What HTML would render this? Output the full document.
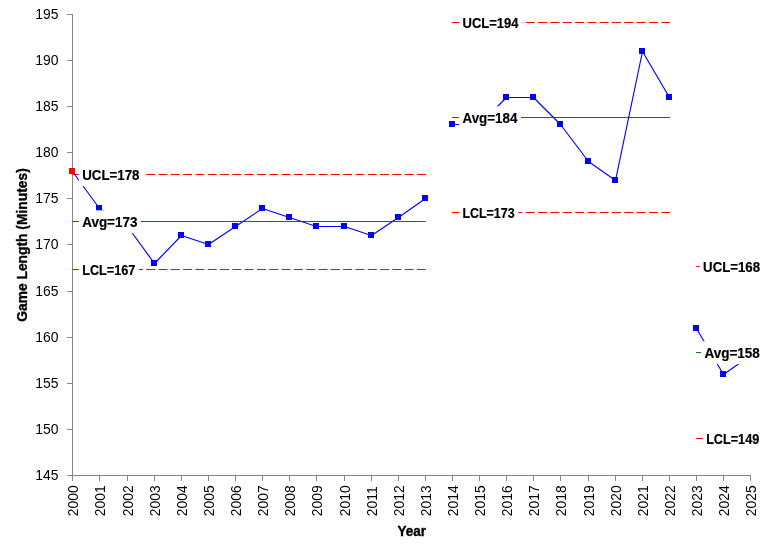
<!DOCTYPE html>
<html><head><meta charset="utf-8"><style>
html,body{margin:0;padding:0;background:#fff;width:768px;height:544px;overflow:hidden}
svg{display:block;will-change:transform}
.t{font-family:"Liberation Sans", sans-serif;font-size:13.9px;fill:#000}
.l{font-family:"Liberation Sans", sans-serif;font-size:14.8px;font-weight:bold;fill:#000;stroke:#000;stroke-width:0.2px}
.ti{font-family:"Liberation Sans", sans-serif;font-size:14.3px;font-weight:bold;fill:#000;stroke:#000;stroke-width:0.35px}
</style></head><body>
<svg width="768" height="544" viewBox="0 0 768 544">
<line x1="72.5" y1="14" x2="72.5" y2="476" stroke="#868686" stroke-width="1"/>
<line x1="67" y1="475.5" x2="751" y2="475.5" stroke="#868686" stroke-width="1"/>
<line x1="67" y1="475.5" x2="72" y2="475.5" stroke="#868686" stroke-width="1"/>
<text x="58.5" y="480.20" text-anchor="end" class="t">145</text>
<line x1="67" y1="429.5" x2="72" y2="429.5" stroke="#868686" stroke-width="1"/>
<text x="58.5" y="434.05" text-anchor="end" class="t">150</text>
<line x1="67" y1="383.5" x2="72" y2="383.5" stroke="#868686" stroke-width="1"/>
<text x="58.5" y="387.90" text-anchor="end" class="t">155</text>
<line x1="67" y1="337.5" x2="72" y2="337.5" stroke="#868686" stroke-width="1"/>
<text x="58.5" y="341.75" text-anchor="end" class="t">160</text>
<line x1="67" y1="291.5" x2="72" y2="291.5" stroke="#868686" stroke-width="1"/>
<text x="58.5" y="295.60" text-anchor="end" class="t">165</text>
<line x1="67" y1="244.5" x2="72" y2="244.5" stroke="#868686" stroke-width="1"/>
<text x="58.5" y="249.45" text-anchor="end" class="t">170</text>
<line x1="67" y1="198.5" x2="72" y2="198.5" stroke="#868686" stroke-width="1"/>
<text x="58.5" y="203.30" text-anchor="end" class="t">175</text>
<line x1="67" y1="152.5" x2="72" y2="152.5" stroke="#868686" stroke-width="1"/>
<text x="58.5" y="157.15" text-anchor="end" class="t">180</text>
<line x1="67" y1="106.5" x2="72" y2="106.5" stroke="#868686" stroke-width="1"/>
<text x="58.5" y="111.00" text-anchor="end" class="t">185</text>
<line x1="67" y1="60.5" x2="72" y2="60.5" stroke="#868686" stroke-width="1"/>
<text x="58.5" y="64.85" text-anchor="end" class="t">190</text>
<line x1="67" y1="14.5" x2="72" y2="14.5" stroke="#868686" stroke-width="1"/>
<text x="58.5" y="18.70" text-anchor="end" class="t">195</text>
<line x1="72.5" y1="476" x2="72.5" y2="481" stroke="#868686" stroke-width="1"/>
<text transform="translate(78.10,516.2) rotate(-90)" class="t">2000</text>
<line x1="99.5" y1="476" x2="99.5" y2="481" stroke="#868686" stroke-width="1"/>
<text transform="translate(105.10,516.2) rotate(-90)" class="t">2001</text>
<line x1="127.5" y1="476" x2="127.5" y2="481" stroke="#868686" stroke-width="1"/>
<text transform="translate(133.10,516.2) rotate(-90)" class="t">2002</text>
<line x1="154.5" y1="476" x2="154.5" y2="481" stroke="#868686" stroke-width="1"/>
<text transform="translate(160.10,516.2) rotate(-90)" class="t">2003</text>
<line x1="181.5" y1="476" x2="181.5" y2="481" stroke="#868686" stroke-width="1"/>
<text transform="translate(187.10,516.2) rotate(-90)" class="t">2004</text>
<line x1="208.5" y1="476" x2="208.5" y2="481" stroke="#868686" stroke-width="1"/>
<text transform="translate(214.10,516.2) rotate(-90)" class="t">2005</text>
<line x1="235.5" y1="476" x2="235.5" y2="481" stroke="#868686" stroke-width="1"/>
<text transform="translate(241.10,516.2) rotate(-90)" class="t">2006</text>
<line x1="262.5" y1="476" x2="262.5" y2="481" stroke="#868686" stroke-width="1"/>
<text transform="translate(268.10,516.2) rotate(-90)" class="t">2007</text>
<line x1="289.5" y1="476" x2="289.5" y2="481" stroke="#868686" stroke-width="1"/>
<text transform="translate(295.10,516.2) rotate(-90)" class="t">2008</text>
<line x1="316.5" y1="476" x2="316.5" y2="481" stroke="#868686" stroke-width="1"/>
<text transform="translate(322.10,516.2) rotate(-90)" class="t">2009</text>
<line x1="344.5" y1="476" x2="344.5" y2="481" stroke="#868686" stroke-width="1"/>
<text transform="translate(350.10,516.2) rotate(-90)" class="t">2010</text>
<line x1="371.5" y1="476" x2="371.5" y2="481" stroke="#868686" stroke-width="1"/>
<text transform="translate(377.10,516.2) rotate(-90)" class="t">2011</text>
<line x1="398.5" y1="476" x2="398.5" y2="481" stroke="#868686" stroke-width="1"/>
<text transform="translate(404.10,516.2) rotate(-90)" class="t">2012</text>
<line x1="425.5" y1="476" x2="425.5" y2="481" stroke="#868686" stroke-width="1"/>
<text transform="translate(431.10,516.2) rotate(-90)" class="t">2013</text>
<line x1="452.5" y1="476" x2="452.5" y2="481" stroke="#868686" stroke-width="1"/>
<text transform="translate(458.10,516.2) rotate(-90)" class="t">2014</text>
<line x1="479.5" y1="476" x2="479.5" y2="481" stroke="#868686" stroke-width="1"/>
<text transform="translate(485.10,516.2) rotate(-90)" class="t">2015</text>
<line x1="506.5" y1="476" x2="506.5" y2="481" stroke="#868686" stroke-width="1"/>
<text transform="translate(512.10,516.2) rotate(-90)" class="t">2016</text>
<line x1="533.5" y1="476" x2="533.5" y2="481" stroke="#868686" stroke-width="1"/>
<text transform="translate(539.10,516.2) rotate(-90)" class="t">2017</text>
<line x1="560.5" y1="476" x2="560.5" y2="481" stroke="#868686" stroke-width="1"/>
<text transform="translate(566.10,516.2) rotate(-90)" class="t">2018</text>
<line x1="588.5" y1="476" x2="588.5" y2="481" stroke="#868686" stroke-width="1"/>
<text transform="translate(594.10,516.2) rotate(-90)" class="t">2019</text>
<line x1="615.5" y1="476" x2="615.5" y2="481" stroke="#868686" stroke-width="1"/>
<text transform="translate(621.10,516.2) rotate(-90)" class="t">2020</text>
<line x1="642.5" y1="476" x2="642.5" y2="481" stroke="#868686" stroke-width="1"/>
<text transform="translate(648.10,516.2) rotate(-90)" class="t">2021</text>
<line x1="669.5" y1="476" x2="669.5" y2="481" stroke="#868686" stroke-width="1"/>
<text transform="translate(675.10,516.2) rotate(-90)" class="t">2022</text>
<line x1="696.5" y1="476" x2="696.5" y2="481" stroke="#868686" stroke-width="1"/>
<text transform="translate(702.10,516.2) rotate(-90)" class="t">2023</text>
<line x1="723.5" y1="476" x2="723.5" y2="481" stroke="#868686" stroke-width="1"/>
<text transform="translate(729.10,516.2) rotate(-90)" class="t">2024</text>
<line x1="750.5" y1="476" x2="750.5" y2="481" stroke="#868686" stroke-width="1"/>
<text transform="translate(756.10,516.2) rotate(-90)" class="t">2025</text>
<line x1="72.30" y1="174.5" x2="425.86" y2="174.5" stroke="#ff0000" stroke-width="1.1" stroke-dasharray="9 3.31"/>
<line x1="72.30" y1="269.5" x2="425.86" y2="269.5" stroke="#ff0000" stroke-width="1.1" stroke-dasharray="9 3.31"/>
<line x1="72.30" y1="221.5" x2="425.86" y2="221.5" stroke="#008000" stroke-width="1.15"/>
<line x1="451.98" y1="22.5" x2="669.94" y2="22.5" stroke="#ff0000" stroke-width="1.1" stroke-dasharray="9 3.31"/>
<line x1="451.98" y1="212.5" x2="669.94" y2="212.5" stroke="#ff0000" stroke-width="1.1" stroke-dasharray="9 3.31"/>
<line x1="451.98" y1="117.5" x2="669.94" y2="117.5" stroke="#008000" stroke-width="1.15"/>
<line x1="696.06" y1="266.5" x2="751.30" y2="266.5" stroke="#ff0000" stroke-width="1.1" stroke-dasharray="9 3.31"/>
<line x1="696.06" y1="438.5" x2="751.30" y2="438.5" stroke="#ff0000" stroke-width="1.1" stroke-dasharray="9 3.31"/>
<line x1="696.06" y1="352.5" x2="751.30" y2="352.5" stroke="#008000" stroke-width="1.15"/>
<polyline points="72.50,171.50 99.50,208.50 127.50,226.50 154.50,263.50 181.50,235.50 208.50,244.50 235.50,226.50 262.50,208.50 289.50,217.50 316.50,226.50 344.50,226.50 371.50,235.50 398.50,217.50 425.50,198.50" fill="none" stroke="#0000ff" stroke-width="1.15" stroke-linejoin="round"/>
<rect x="69" y="168" width="6" height="6" fill="#ff0000"/>
<rect x="96" y="205" width="6" height="6" fill="#0000ff"/>
<rect x="124" y="223" width="6" height="6" fill="#0000ff"/>
<rect x="151" y="260" width="6" height="6" fill="#0000ff"/>
<rect x="178" y="232" width="6" height="6" fill="#0000ff"/>
<rect x="205" y="241" width="6" height="6" fill="#0000ff"/>
<rect x="232" y="223" width="6" height="6" fill="#0000ff"/>
<rect x="259" y="205" width="6" height="6" fill="#0000ff"/>
<rect x="286" y="214" width="6" height="6" fill="#0000ff"/>
<rect x="313" y="223" width="6" height="6" fill="#0000ff"/>
<rect x="341" y="223" width="6" height="6" fill="#0000ff"/>
<rect x="368" y="232" width="6" height="6" fill="#0000ff"/>
<rect x="395" y="214" width="6" height="6" fill="#0000ff"/>
<rect x="422" y="195" width="6" height="6" fill="#0000ff"/>
<polyline points="452.50,124.50 479.50,124.50 506.50,97.50 533.50,97.50 560.50,124.50 588.50,161.50 615.50,180.50 642.50,51.50 669.50,97.50" fill="none" stroke="#0000ff" stroke-width="1.15" stroke-linejoin="round"/>
<rect x="449" y="121" width="6" height="6" fill="#0000ff"/>
<rect x="476" y="121" width="6" height="6" fill="#0000ff"/>
<rect x="503" y="94" width="6" height="6" fill="#0000ff"/>
<rect x="530" y="94" width="6" height="6" fill="#0000ff"/>
<rect x="557" y="121" width="6" height="6" fill="#0000ff"/>
<rect x="585" y="158" width="6" height="6" fill="#0000ff"/>
<rect x="612" y="177" width="6" height="6" fill="#0000ff"/>
<rect x="639" y="48" width="6" height="6" fill="#0000ff"/>
<rect x="666" y="94" width="6" height="6" fill="#0000ff"/>
<polyline points="696.50,328.50 723.50,374.50 750.50,355.50" fill="none" stroke="#0000ff" stroke-width="1.15" stroke-linejoin="round"/>
<rect x="693" y="325" width="6" height="6" fill="#0000ff"/>
<rect x="720" y="371" width="6" height="6" fill="#0000ff"/>
<rect x="78.90" y="163.30" width="64.20" height="22.8" fill="#fff"/>
<text x="82.20" y="179.60" class="l" textLength="57.30" lengthAdjust="spacingAndGlyphs">UCL=178</text>
<rect x="78.90" y="210.30" width="62.10" height="22.8" fill="#fff"/>
<text x="82.20" y="226.60" class="l" textLength="55.20" lengthAdjust="spacingAndGlyphs">Avg=173</text>
<rect x="78.90" y="258.30" width="60.00" height="22.8" fill="#fff"/>
<text x="82.20" y="274.60" class="l" textLength="53.10" lengthAdjust="spacingAndGlyphs">LCL=167</text>
<rect x="459.20" y="11.30" width="62.90" height="22.8" fill="#fff"/>
<text x="462.50" y="27.60" class="l" textLength="56.00" lengthAdjust="spacingAndGlyphs">UCL=194</text>
<rect x="459.20" y="106.30" width="61.80" height="22.8" fill="#fff"/>
<text x="462.50" y="122.60" class="l" textLength="54.90" lengthAdjust="spacingAndGlyphs">Avg=184</text>
<rect x="459.10" y="201.30" width="59.10" height="22.8" fill="#fff"/>
<text x="462.40" y="217.60" class="l" textLength="52.20" lengthAdjust="spacingAndGlyphs">LCL=173</text>
<rect x="699.80" y="255.30" width="63.90" height="22.8" fill="#fff"/>
<text x="703.10" y="271.60" class="l" textLength="57.00" lengthAdjust="spacingAndGlyphs">UCL=168</text>
<rect x="701.10" y="341.30" width="62.30" height="22.8" fill="#fff"/>
<text x="704.40" y="357.60" class="l" textLength="55.40" lengthAdjust="spacingAndGlyphs">Avg=158</text>
<rect x="702.85" y="427.30" width="59.95" height="22.8" fill="#fff"/>
<text x="706.15" y="443.60" class="l" textLength="53.05" lengthAdjust="spacingAndGlyphs">LCL=149</text>
<text transform="translate(26.6,245.0) rotate(-90)" text-anchor="middle" class="ti" textLength="153.5" lengthAdjust="spacingAndGlyphs">Game Length (Minutes)</text>
<text x="397.5" y="535.8" class="ti" textLength="28.6" lengthAdjust="spacingAndGlyphs">Year</text>
</svg>
</body></html>
